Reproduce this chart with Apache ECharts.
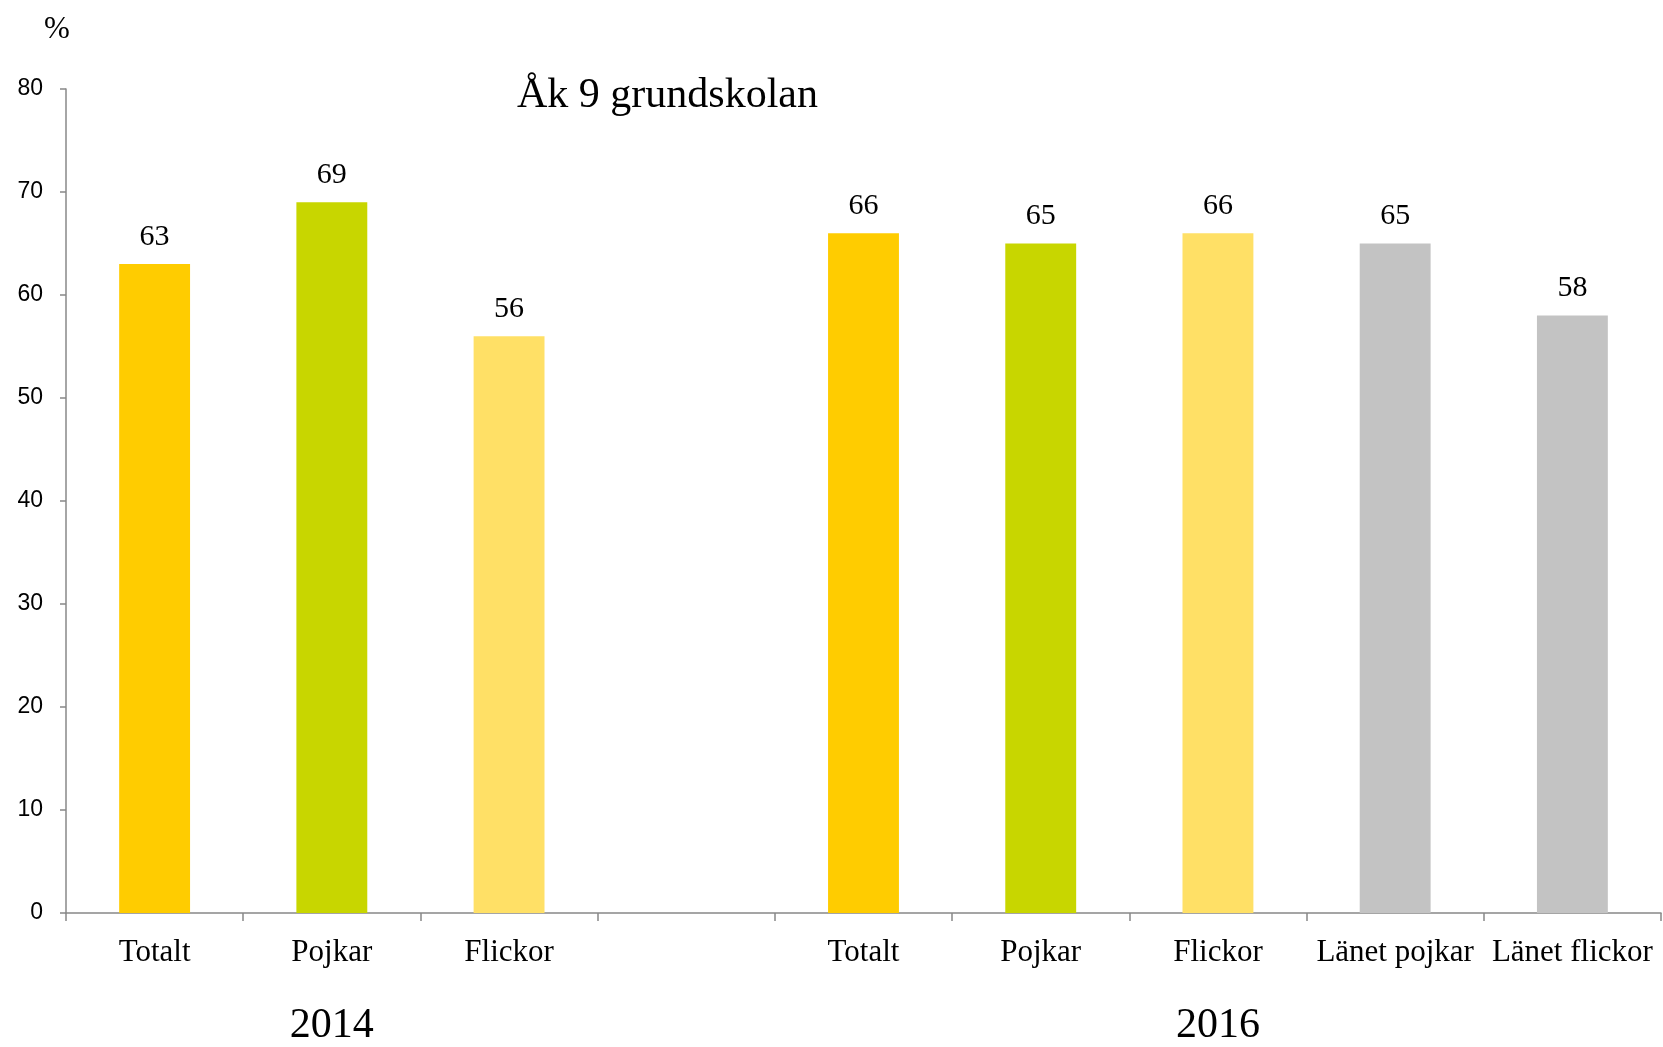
<!DOCTYPE html>
<html>
<head>
<meta charset="utf-8">
<script src="https://cdn.jsdelivr.net/npm/echarts@6/dist/echarts.min.js"></script>
<style>
html,body{margin:0;padding:0;background:#fff;}
#c{width:1663px;height:1047px;}
</style>
</head>
<body>
<div id="c"></div>
<script>
const categories = ['Totalt','Pojkar','Flickor','','Totalt','Pojkar','Flickor','Länet pojkar','Länet flickor'];
const values = [63, 69, 56, null, 66, 65, 66, 65, 58];
const barColors = ['#FFCC00','#C8D600','#FFE066','#FFFFFF','#FFCC00','#C8D600','#FFE066','#C3C3C3','#C3C3C3'];
const yearLabels = ['', '2014', '', '', '', '', '2016', '', ''];
const titleText = 'Åk 9 grundskolan';
const yUnit = '%';

const chart = echarts.init(document.getElementById('c'));
const serif = '"Liberation Serif", "Times New Roman", serif';
const sans = '"Liberation Sans", Arial, sans-serif';

chart.setOption({
  animation: false,
  backgroundColor: '#ffffff',
  title: {
    text: titleText,
    left: 512, top: 70,
    textStyle: { fontFamily: serif, fontSize: 42, fontWeight: 'normal', color: '#000' }
  },
  graphic: [{
    type: 'text', left: 44, top: 14,
    style: { text: yUnit, fontFamily: serif, fontSize: 31, fill: '#000' }
  }],
  grid: { left: 66, right: 2, top: 89, bottom: 130, containLabel: false },
  xAxis: [{
    type: 'category',
    data: categories,
    axisLine: { lineStyle: { color: '#888', width: 1.5 } },
    axisTick: { show: true, alignWithLabel: false, length: 8, lineStyle: { color: '#888', width: 1.5 } },
    axisLabel: { interval: 0, margin: 24, fontFamily: serif, fontSize: 31, color: '#000' }
  }, {
    type: 'category',
    position: 'bottom',
    offset: 92,
    data: yearLabels,
    axisLine: { show: false },
    axisTick: { show: false },
    axisLabel: { interval: 0, margin: 0, fontFamily: serif, fontSize: 42, color: '#000' }
  }],
  yAxis: {
    type: 'value', min: 0, max: 80, interval: 10,
    axisLine: { show: true, lineStyle: { color: '#888', width: 1.5 } },
    axisTick: { show: true, inside: false, length: 6, lineStyle: { color: '#888', width: 1.5 } },
    splitLine: { show: false },
    axisLabel: { margin: 23, fontFamily: sans, fontSize: 23, color: '#000' }
  },
  series: [{
    type: 'bar',
    xAxisIndex: 0,
    barWidth: '40%',
    data: values.map((v, i) => ({ value: v, itemStyle: { color: barColors[i] } })),
    label: {
      show: true, position: 'top', distance: 12,
      fontFamily: serif, fontSize: 30, color: '#000'
    }
  }]
});
</script>
</body>
</html>
